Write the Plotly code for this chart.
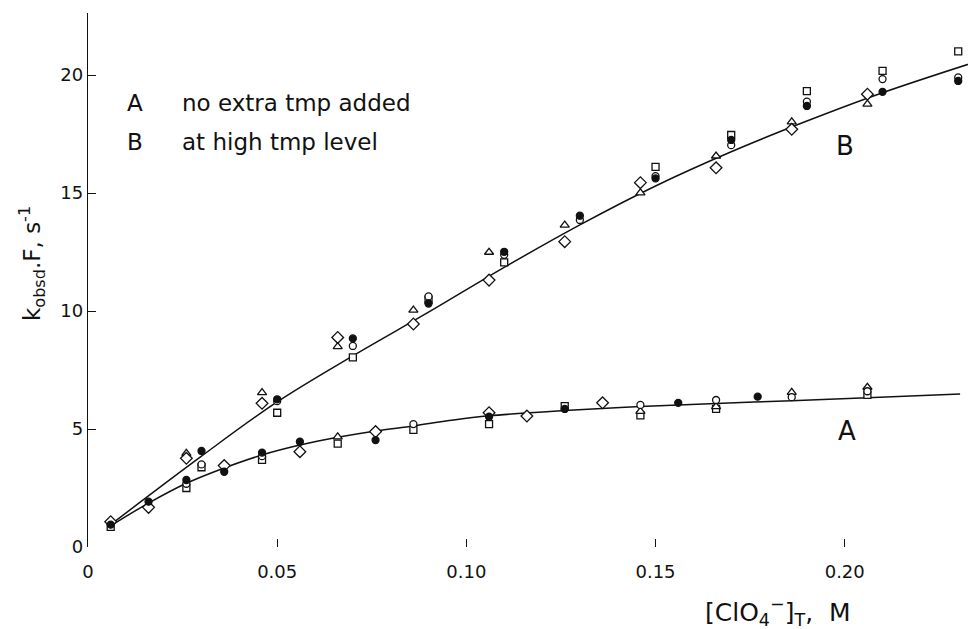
import plotly.graph_objects as go

# ---------------- data ----------------
# Curve A (no extra tmp added): observed points by marker type
A_filled_x = [0.006, 0.016, 0.026, 0.036, 0.046, 0.056, 0.076, 0.106, 0.126, 0.156, 0.177]
A_filled_y = [0.95, 1.92, 2.84, 3.19, 4.00, 4.46, 4.53, 5.52, 5.85, 6.11, 6.37]
A_open_x = [0.026, 0.046, 0.086, 0.146, 0.166, 0.186, 0.206]
A_open_y = [2.68, 3.85, 5.21, 6.02, 6.23, 6.35, 6.60]
A_square_x = [0.006, 0.026, 0.046, 0.066, 0.086, 0.106, 0.126, 0.146, 0.166, 0.206]
A_square_y = [0.85, 2.50, 3.69, 4.38, 4.96, 5.21, 5.97, 5.58, 5.85, 6.45]
A_tri_x = [0.066, 0.146, 0.166, 0.186, 0.206]
A_tri_y = [4.67, 5.75, 5.95, 6.55, 6.77]
A_diam_x = [0.006, 0.016, 0.036, 0.056, 0.076, 0.106, 0.116, 0.136]
A_diam_y = [1.07, 1.68, 3.45, 4.04, 4.89, 5.69, 5.55, 6.11]

# Curve B (at high tmp level)
B_filled_x = [0.030, 0.050, 0.070, 0.090, 0.110, 0.130, 0.150, 0.170, 0.190, 0.210, 0.230]
B_filled_y = [4.07, 6.26, 8.84, 10.32, 12.51, 14.04, 15.62, 17.25, 18.69, 19.29, 19.75]
B_open_x = [0.030, 0.050, 0.070, 0.090, 0.110, 0.130, 0.150, 0.170, 0.190, 0.210, 0.230]
B_open_y = [3.50, 6.18, 8.52, 10.62, 12.38, 13.86, 15.72, 17.03, 18.87, 19.83, 19.90]
B_square_x = [0.030, 0.050, 0.070, 0.090, 0.110, 0.150, 0.170, 0.190, 0.210, 0.230]
B_square_y = [3.38, 5.69, 8.04, 10.48, 12.06, 16.11, 17.46, 19.32, 20.18, 21.00]
B_tri_x = [0.026, 0.046, 0.066, 0.086, 0.106, 0.126, 0.146, 0.166, 0.186, 0.206]
B_tri_y = [3.97, 6.54, 8.49, 10.04, 12.49, 13.64, 15.01, 16.57, 18.02, 18.77]
B_diam_x = [0.026, 0.046, 0.066, 0.086, 0.106, 0.126, 0.146, 0.166, 0.186, 0.206]
B_diam_y = [3.76, 6.09, 8.88, 9.45, 11.31, 12.94, 15.44, 16.07, 17.70, 19.19]

# fitted curves
curveA_x = [0.006, 0.016, 0.026, 0.036, 0.046, 0.056, 0.066, 0.076, 0.086, 0.096,
            0.106, 0.126, 0.146, 0.166, 0.186, 0.206, 0.2305]
curveA_y = [0.90, 1.86, 2.70, 3.35, 3.90, 4.32, 4.65, 4.92, 5.13, 5.37,
            5.56, 5.78, 5.95, 6.08, 6.20, 6.33, 6.48]
curveB_x = [0.006, 0.030, 0.050, 0.070, 0.090, 0.110, 0.130, 0.150, 0.170, 0.190, 0.210, 0.2345]
curveB_y = [0.95, 3.85, 6.15, 8.10, 9.95, 11.85, 13.65, 15.30, 16.75, 18.05, 19.25, 20.55]

x_ticks = [0, 0.05, 0.10, 0.15, 0.20]
x_tick_labels = ["0", "0.05", "0.10", "0.15", "0.20"]
y_ticks = [0, 5, 10, 15, 20]
y_tick_labels = ["0", "5", "10", "15", "20"]

FONT = "DejaVu Sans"
BLACK = "#111111"

fig = go.Figure()

fig.add_trace(go.Scatter(x=curveA_x, y=curveA_y, mode="lines",
                         line=dict(color=BLACK, width=1.5, shape="spline"), hoverinfo="skip"))
fig.add_trace(go.Scatter(x=curveB_x, y=curveB_y, mode="lines",
                         line=dict(color=BLACK, width=1.5, shape="spline"), hoverinfo="skip"))


def pts(xs, ys, symbol, size, filled=False):
    fig.add_trace(go.Scatter(
        x=xs, y=ys, mode="markers",
        marker=dict(symbol=symbol, size=size,
                    color=BLACK if filled else "white",
                    line=dict(color=BLACK, width=1.3))))


for xs, ys in [(A_square_x, A_square_y), (B_square_x, B_square_y)]:
    pts(xs, ys, "square", 7)
for xs, ys in [(A_tri_x, A_tri_y), (B_tri_x, B_tri_y)]:
    pts(xs, ys, "triangle-up", 8)
for xs, ys in [(A_diam_x, A_diam_y), (B_diam_x, B_diam_y)]:
    pts(xs, ys, "diamond", 9)
for xs, ys in [(A_open_x, A_open_y), (B_open_x, B_open_y)]:
    pts(xs, ys, "circle", 7)
for xs, ys in [(A_filled_x, A_filled_y), (B_filled_x, B_filled_y)]:
    pts(xs, ys, "circle", 7, filled=True)

# x axis line (ends before the right edge)
fig.add_shape(type="line", xref="x", yref="y", x0=0, x1=0.2299, y0=-0.08, y1=-0.08,
              line=dict(color=BLACK, width=1.3))

annots = [
    dict(x=0.00985, y=18.8, text="A", xanchor="left", size=23),
    dict(x=0.0244, y=18.8, text="no extra tmp added", xanchor="left", size=23),
    dict(x=0.00985, y=17.15, text="B", xanchor="left", size=23),
    dict(x=0.0244, y=17.15, text="at high tmp level", xanchor="left", size=23),
    dict(x=0.2006, y=4.9, text="A", xanchor="center", size=26),
    dict(x=0.2000, y=17.0, text="B", xanchor="center", size=26),
]
for a in annots:
    size = a.pop("size")
    fig.add_annotation(xref="x", yref="y", showarrow=False, yanchor="middle",
                       font=dict(family=FONT, size=size, color=BLACK), **a)

fig.add_annotation(xref="x", yref="paper", x=0.1823, y=-0.122, showarrow=False,
                   text="[ClO<sub>4</sub><sup>−</sup>]<sub>T</sub>,  M",
                   font=dict(family=FONT, size=25, color=BLACK), yanchor="middle")
fig.add_annotation(xref="paper", yref="paper", x=-0.063, y=0.53, showarrow=False,
                   text="k<sub>obsd</sub>.F, s<sup>-1</sup>", textangle=-90,
                   font=dict(family=FONT, size=23, color=BLACK),
                   xanchor="center", yanchor="middle")

# the page body has an 8 px margin, so the figure is shrunk and shifted to fit
fig.update_layout(
    width=968, height=621,
    margin=dict(l=80, r=0, t=5, b=82),
    paper_bgcolor="white", plot_bgcolor="white",
    showlegend=False,
    font=dict(family=FONT, size=18, color=BLACK),
    xaxis=dict(range=[0, 0.2347], tickvals=x_ticks, ticktext=x_tick_labels,
               ticks="inside", ticklen=8, tickcolor=BLACK, tickwidth=1.2,
               ticklabelstandoff=12,
               showline=False, showgrid=False, zeroline=False,
               tickfont=dict(family=FONT, size=18, color=BLACK)),
    yaxis=dict(range=[0, 22.63], tickvals=y_ticks, ticktext=y_tick_labels,
               ticks="inside", ticklen=8, tickcolor=BLACK, tickwidth=1.2,
               showline=True, linecolor=BLACK, linewidth=1.3,
               showgrid=False, zeroline=False,
               tickfont=dict(family=FONT, size=18, color=BLACK)),
)

fig.write_html("out.html")
